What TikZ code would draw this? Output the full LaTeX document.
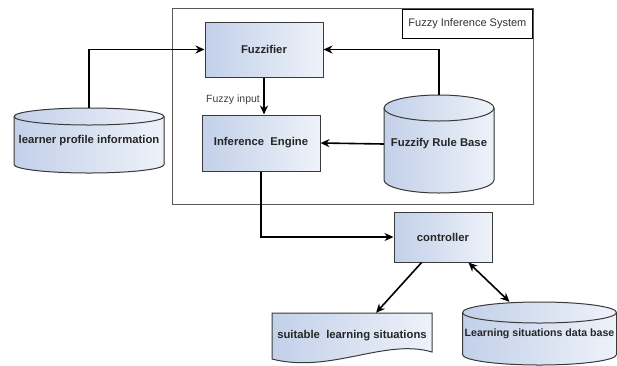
\documentclass[tikz,border=0pt]{standalone}
\usepackage{fontspec}
\setmainfont{Liberation Sans}
\usetikzlibrary{arrows.meta}
\definecolor{boxleft}{HTML}{C2D0E9}
\definecolor{boxright}{HTML}{EEF2F9}
\definecolor{edge}{HTML}{3A3A3A}

% cylinder outline: centre x, top y, bottom y, x radius, y radius
\newcommand{\storeshape}[5]{%
  \filldraw[storeline,left color=boxleft,right color=boxright]
    (#1-#4,#2+#5) -- (#1-#4,#3-#5)
    arc[start angle=180,end angle=0,x radius=#4,y radius=#5]
    -- (#1+#4,#2+#5)
    arc[start angle=0,end angle=-180,x radius=#4,y radius=#5] -- cycle;
  \draw[storeline] (#1-#4,#2+#5) arc[start angle=180,end angle=0,x radius=#4,y radius=#5];
}

\begin{document}
\begin{tikzpicture}[x=1pt,y=-1pt,
    block/.style={rectangle,draw=edge,line width=1pt,left color=boxleft,right color=boxright,
      inner sep=0pt,font=\fontsize{11.3}{13}\selectfont\bfseries,text=black!85},
    storeline/.style={draw=edge,line width=1pt},
    store/.style={rectangle,inner sep=0pt,font=\fontsize{11.3}{13}\selectfont\bfseries,text=black!85},
    flow/.style={-{Stealth[length=9pt,width=8pt]},line width=1.6pt},
    >=Stealth]

  \useasboundingbox (0,0) rectangle (617,365);

  % fuzzy inference system frame
  \node[rectangle,draw=black!65,line width=0.9pt,minimum width=361,minimum height=196] (fis) at (352.5,106) {};
  \node[rectangle,draw=black,line width=1.2pt,minimum width=130,minimum height=29,anchor=north east,
        font=\fontsize{11}{13}\selectfont,text=black!80] (fislabel) at (533,9) {Fuzzy Inference System};

  % blocks
  \node[block,minimum width=118,minimum height=55] (fuzz) at (264,49.5) {Fuzzifier};
  \node[block,minimum width=118,minimum height=56] (infer) at (261,143) {Inference\ \ Engine};
  \node[block,minimum width=98,minimum height=50] (ctrl) at (443,237) {controller};

  % stores
  \storeshape{89}{108}{173}{75}{8.5}
  \node[store,minimum width=150,minimum height=65] (learner) at (89,140.5) {\makebox[0pt]{learner profile information}};
  \storeshape{439}{95}{193}{55}{13}
  \node[store,minimum width=110,minimum height=98] (rules) at (439,144) {\makebox[0pt]{Fuzzify Rule Base}};
  \storeshape{539.5}{302}{365}{77}{10.5}
  \node[store,minimum width=154,minimum height=63,font=\fontsize{10.6}{13}\selectfont\bfseries] (db) at (539.5,333.5)
    {\makebox[0pt]{\raisebox{-4pt}{Learning situations data base}}};

  % document
  \draw[draw=edge,line width=1pt,left color=boxleft,right color=boxright]
    (272,313) -- (432,313) -- (432,352) .. controls (385,338) and (330,374) .. (272,359) -- cycle;
  \node[store,minimum width=160,minimum height=46] (suit) at (352,336) {suitable\ \ learning situations};

  % connectors
  \draw[flow] (learner.north) |- (fuzz.west);
  \draw[flow] (rules.north) |- (fuzz.east);
  \draw[flow] (fuzz.south) -- (fuzz.south |- infer.north)
    node[pos=0.6,left=0pt,font=\fontsize{10.5}{12}\selectfont,text=black!75] {Fuzzy input};
  \draw[flow] (rules.west) -- (infer.east);
  \draw[flow] (infer.south) |- (ctrl.west);
  \draw[flow] (ctrl.-130) -- ([xshift=24pt]suit.north);
  \draw[{Stealth[length=9pt,width=8pt]}-{Stealth[length=9pt,width=8pt]},line width=1.6pt]
    (ctrl.-45) -- ([xshift=-30pt]db.north);

\end{tikzpicture}
\end{document}
